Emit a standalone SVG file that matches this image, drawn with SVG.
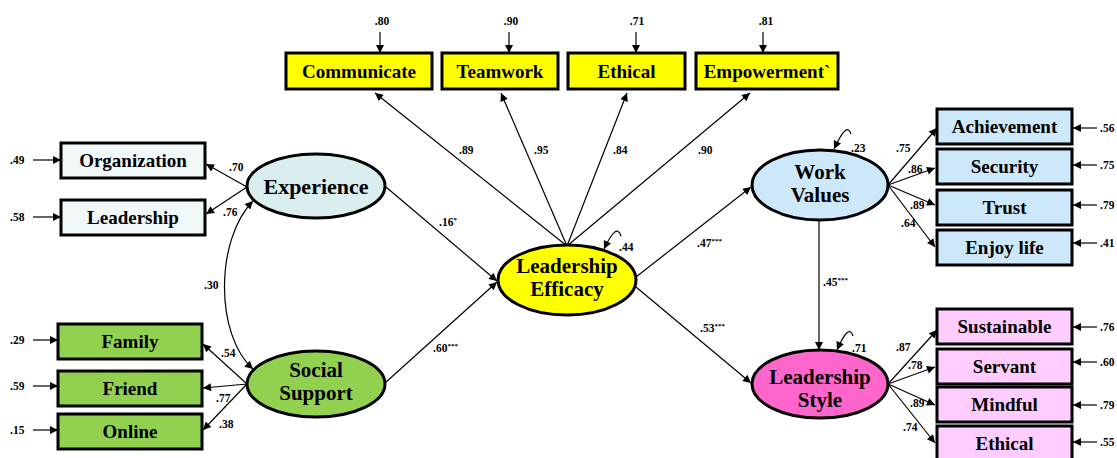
<svg xmlns="http://www.w3.org/2000/svg" width="1117" height="458" viewBox="0 0 1117 458">
<defs>
<marker id="ah" viewBox="0 0 10 10" refX="10" refY="5" markerWidth="10" markerHeight="8" markerUnits="userSpaceOnUse" orient="auto-start-reverse">
<path d="M0,0 L10,5 L0,10 z" fill="#000"/>
</marker>
<style>
.box{stroke:#000;stroke-width:3}
.ell{stroke:#000;stroke-width:3}
.lbl{font-family:"Liberation Serif","Times New Roman",serif;font-weight:bold;font-size:19px;fill:#000;text-anchor:middle}
.big{font-family:"Liberation Serif","Times New Roman",serif;font-weight:bold;font-size:22px;fill:#000;text-anchor:middle}
.two{font-family:"Liberation Serif","Times New Roman",serif;font-weight:bold;font-size:21px;fill:#000;text-anchor:middle}
.num{font-family:"Liberation Serif","Times New Roman",serif;font-weight:bold;font-size:11.5px;fill:#000}
.ln{stroke:#000;stroke-width:1.2;fill:none;marker-end:url(#ah)}
.yel{fill:#FFFF00}
.exb{fill:#F0F8FA}
.grn{fill:#92D050}
.blu{fill:#CCE8FA}
.pnk{fill:#FFCCFF}
</style>
</defs>
<rect width="1117" height="458" fill="#fff"/>

<g id="connectors">
<path class="ln" d="M380 32 L380 53"/>
<path class="ln" d="M509 32 L509 53"/>
<path class="ln" d="M636 32 L636 53"/>
<path class="ln" d="M763 32 L763 53"/>
<path class="ln" d="M33 160 L61 160"/>
<path class="ln" d="M33 217 L61 217"/>
<path class="ln" d="M33 340 L58 340"/>
<path class="ln" d="M33 386 L58 386"/>
<path class="ln" d="M33 430 L58 430"/>
<path class="ln" d="M1097 128 L1073 128"/>
<path class="ln" d="M1097 165 L1073 165"/>
<path class="ln" d="M1097 205 L1073 205"/>
<path class="ln" d="M1097 243 L1073 243"/>
<path class="ln" d="M1097 327 L1073 327"/>
<path class="ln" d="M1097 362 L1073 362"/>
<path class="ln" d="M1097 405 L1073 405"/>
<path class="ln" d="M1097 442 L1073 442"/>
<path class="ln" d="M247 187 L206 164"/>
<path class="ln" d="M247 187 L206 214"/>
<path class="ln" d="M247 384 L203 344"/>
<path class="ln" d="M247 384 L203 388"/>
<path class="ln" d="M247 384 L203 430"/>
<path class="ln" style="marker-start:url(#ah)" d="M253 201 C215 240, 215 335, 253 369"/>
<path class="ln" d="M386 187 L497 281"/>
<path class="ln" d="M385 383 L497 282"/>
<path class="ln" d="M567 246 L375 93"/>
<path class="ln" d="M567 246 L501 93"/>
<path class="ln" d="M567 246 L627 93"/>
<path class="ln" d="M567 246 L750 93"/>
<path class="ln" d="M636 277 L751 187"/>
<path class="ln" d="M636 287 L751 383"/>
<path class="ln" d="M819 220 L819 350"/>
<path class="ln" d="M888 185 L937 128"/>
<path class="ln" d="M888 185 L935 168"/>
<path class="ln" d="M888 185 L935 205"/>
<path class="ln" d="M888 185 L935 247"/>
<path class="ln" d="M888 384 L937 330"/>
<path class="ln" d="M888 384 L935 367"/>
<path class="ln" d="M888 384 L935 405"/>
<path class="ln" d="M888 384 L935 443"/>
<path class="ln" d="M621 236 C618 226, 612 232, 604 249"/>
<path class="ln" d="M851 134 C848 124, 842 132, 834 149"/>
<path class="ln" d="M853 336 C850 326, 844 334, 837 350"/>
</g>

<g id="labels">
<text class="num" x="382" y="25" text-anchor="middle">.80</text>
<text class="num" x="511" y="25" text-anchor="middle">.90</text>
<text class="num" x="637" y="25" text-anchor="middle">.71</text>
<text class="num" x="766" y="25" text-anchor="middle">.81</text>
<text class="num" x="10" y="164">.49</text>
<text class="num" x="10" y="221">.58</text>
<text class="num" x="10" y="344">.29</text>
<text class="num" x="10" y="390">.59</text>
<text class="num" x="10" y="434">.15</text>
<text class="num" x="1100" y="132">.56</text>
<text class="num" x="1100" y="169">.75</text>
<text class="num" x="1100" y="209">.79</text>
<text class="num" x="1100" y="247">.41</text>
<text class="num" x="1100" y="331">.76</text>
<text class="num" x="1100" y="366">.60</text>
<text class="num" x="1100" y="409">.79</text>
<text class="num" x="1100" y="446">.55</text>
<text class="num" x="229" y="171">.70</text>
<text class="num" x="223" y="216">.76</text>
<text class="num" x="204" y="289">.30</text>
<text class="num" x="221" y="357">.54</text>
<text class="num" x="216" y="402">.77</text>
<text class="num" x="219" y="428">.38</text>
<text class="num" x="439" y="226">.16<tspan font-size="7" dy="-4">*</tspan></text>
<text class="num" x="433" y="352">.60<tspan font-size="7" dy="-4">***</tspan></text>
<text class="num" x="459" y="154">.89</text>
<text class="num" x="534" y="154">.95</text>
<text class="num" x="613" y="154">.84</text>
<text class="num" x="698" y="154">.90</text>
<text class="num" x="619" y="251">.44</text>
<text class="num" x="697" y="247">.47<tspan font-size="7" dy="-4">***</tspan></text>
<text class="num" x="700" y="332">.53<tspan font-size="7" dy="-4">***</tspan></text>
<text class="num" x="823" y="286">.45<tspan font-size="7" dy="-4">***</tspan></text>
<text class="num" x="851" y="152">.23</text>
<text class="num" x="852" y="352">.71</text>
<text class="num" x="896" y="152">.75</text>
<text class="num" x="908" y="173">.86</text>
<text class="num" x="910" y="209">.89</text>
<text class="num" x="901" y="227">.64</text>
<text class="num" x="896" y="351">.87</text>
<text class="num" x="908" y="369">.78</text>
<text class="num" x="910" y="407">.89</text>
<text class="num" x="903" y="431">.74</text>
</g>

<g id="communicate"><rect class="box yel" x="286" y="53" width="146" height="36"/><text class="lbl" x="359" y="78">Communicate</text></g>
<g id="teamwork"><rect class="box yel" x="442" y="53" width="116" height="36"/><text class="lbl" x="500" y="78">Teamwork</text></g>
<g id="ethical-le"><rect class="box yel" x="568" y="53" width="117" height="36"/><text class="lbl" x="626.5" y="78">Ethical</text></g>
<g id="empowerment"><rect class="box yel" x="696" y="53" width="142" height="36"/><text class="lbl" x="767" y="78">Empowerment`</text></g>

<g id="organization"><rect class="box exb" x="61" y="143" width="144" height="35"/><text class="lbl" x="133" y="167">Organization</text></g>
<g id="leadership"><rect class="box exb" x="61" y="200" width="144" height="35"/><text class="lbl" x="133" y="224">Leadership</text></g>
<g id="family"><rect class="box grn" x="58" y="324" width="144" height="35"/><text class="lbl" x="130" y="348">Family</text></g>
<g id="friend"><rect class="box grn" x="58" y="371" width="144" height="35"/><text class="lbl" x="130" y="395">Friend</text></g>
<g id="online"><rect class="box grn" x="58" y="414" width="144" height="35"/><text class="lbl" x="130" y="438">Online</text></g>

<g id="experience"><ellipse class="ell" cx="316" cy="186" rx="69" ry="32" fill="#DAEEF0"/><text class="big" x="316" y="194">Experience</text></g>
<g id="social-support"><ellipse class="ell" cx="316" cy="384" rx="69" ry="33" fill="#92D050"/><text class="two" x="316" y="377">Social</text><text class="two" x="316" y="400">Support</text></g>
<g id="leadership-efficacy"><ellipse class="ell" cx="567" cy="280" rx="69" ry="35" fill="#FFFF00"/><text class="two" x="567" y="273">Leadership</text><text class="two" x="567" y="296">Efficacy</text></g>
<g id="work-values"><ellipse class="ell" cx="820" cy="185" rx="68" ry="35" fill="#CCE8FA"/><text class="two" x="820" y="179">Work</text><text class="two" x="820" y="202">Values</text></g>
<g id="leadership-style"><ellipse class="ell" cx="820" cy="384" rx="68" ry="34" fill="#FF66CC"/><text class="two" x="820" y="384">Leadership</text><text class="two" x="820" y="407">Style</text></g>

<g id="achievement"><rect class="box blu" x="937" y="109" width="135" height="35"/><text class="lbl" x="1004.5" y="133">Achievement</text></g>
<g id="security"><rect class="box blu" x="937" y="149" width="135" height="35"/><text class="lbl" x="1004.5" y="173">Security</text></g>
<g id="trust"><rect class="box blu" x="937" y="190" width="135" height="35"/><text class="lbl" x="1004.5" y="214">Trust</text></g>
<g id="enjoy-life"><rect class="box blu" x="937" y="230" width="135" height="35"/><text class="lbl" x="1004.5" y="254">Enjoy life</text></g>

<g id="sustainable"><rect class="box pnk" x="937" y="309" width="135" height="35"/><text class="lbl" x="1004.5" y="333">Sustainable</text></g>
<g id="servant"><rect class="box pnk" x="937" y="349" width="135" height="35"/><text class="lbl" x="1004.5" y="373">Servant</text></g>
<g id="mindful"><rect class="box pnk" x="937" y="387" width="135" height="35"/><text class="lbl" x="1004.5" y="411">Mindful</text></g>
<g id="ethical-ls"><rect class="box pnk" x="937" y="426" width="135" height="35"/><text class="lbl" x="1004.5" y="450">Ethical</text></g>
</svg>
